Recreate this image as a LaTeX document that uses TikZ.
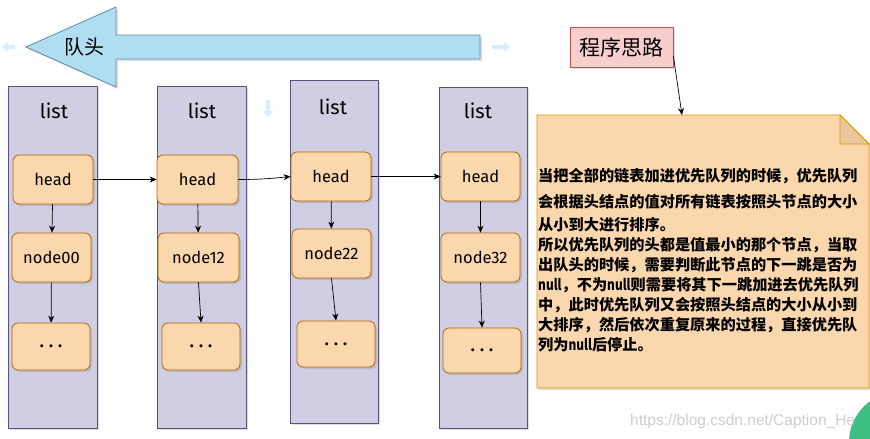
\documentclass[tikz,border=0pt]{standalone}
\usepackage{fontspec}
\setmainfont{Fira Sans}
\newfontfamily\cjk{Noto Sans CJK SC}
\newfontfamily\wmfont{Liberation Sans}
\usetikzlibrary{arrows.meta,shadows}
\newcommand{\nullword}{\scalebox{0.78}[1]{null}}
\definecolor{colfill}{HTML}{D0CEE2}
\definecolor{coldraw}{HTML}{56517E}
\definecolor{nfill}{HTML}{FAD7AC}
\definecolor{ndraw}{HTML}{B46504}
\definecolor{notedraw}{HTML}{D79B00}
\definecolor{foldfill}{HTML}{E9C79A}
\definecolor{pfill}{HTML}{F8CECC}
\definecolor{pdraw}{HTML}{B85450}
\definecolor{afill}{HTML}{B1DDF0}
\definecolor{adraw}{HTML}{5B8FB0}
\definecolor{faint}{HTML}{D8EEF9}
\begin{document}
\begin{tikzpicture}[x=1pt,y=-1pt,
  shd/.style={drop shadow={opacity=0.25,shadow xshift=2pt,shadow yshift=-2pt}},
  colbox/.style={draw=coldraw,fill=colfill,line width=0.8pt,shd},
  nbox/.style={draw=ndraw,fill=nfill,rounded corners=6pt,line width=0.8pt,shd,
    minimum width=80pt,minimum height=49pt,inner sep=0pt,font=\fontsize{16.5}{18}\selectfont},
  listlbl/.style={font=\fontsize{20}{22}\selectfont},
  conn/.style={-{Stealth[length=7pt,width=6pt]},line width=0.7pt,black},
  faintarrow/.style={draw=none,fill=faint}
]
\useasboundingbox (0,0) rectangle (870,439);
% faint hover arrows
\fill[faint] (2,47) -- (8,42) -- (8,45) -- (15,45) -- (15,49) -- (8,49) -- (8,52) -- cycle;
\fill[faint] (510,47) -- (504,42) -- (504,45) -- (492,45) -- (492,49) -- (504,49) -- (504,52) -- cycle;
\fill[faint] (268,117) -- (263,111) -- (266,111) -- (266,100) -- (270,100) -- (270,111) -- (273,111) -- cycle;
% big arrow
\draw[draw=adraw,fill=afill,line width=0.8pt,shd] (26,47) -- (116,7) -- (116,35) -- (480,35) -- (480,59) -- (116,59) -- (116,87) -- cycle;
\node[font=\cjk\fontsize{20}{22}\selectfont] (qhead) at (84,47) {队头};
% columns
\node[colbox,minimum width=89pt,minimum height=342pt] (c1) at (52.5,257) {};
\node[colbox,minimum width=89pt,minimum height=342pt] (c2) at (201.5,257) {};
\node[colbox,minimum width=88pt,minimum height=343pt] (c3) at (334,251.5) {};
\node[colbox,minimum width=88pt,minimum height=341pt] (c4) at (483,257.5) {};
\node[listlbl] (l1) at (54,111) {list};
\node[listlbl] (l2) at (202,111) {list};
\node[listlbl] (l3) at (333,107) {list};
\node[listlbl] (l4) at (478,111) {list};
% nodes
\node[nbox] (h1) at (53,179.5) {head};
\node[nbox,minimum width=79pt] (n1) at (51.5,257.5) {node00};
\node[nbox,minimum width=78pt,minimum height=47pt] (d1) at (51,346.5) {\textbf{. . .}};
\node[nbox,minimum width=81pt] (h2) at (197.5,179.5) {head};
\node[nbox,minimum width=81pt] (n2) at (198.5,257.5) {node12};
\node[nbox,minimum width=78pt,minimum height=47pt] (d2) at (201,346.5) {\textbf{. . .}};
\node[nbox] (h3) at (331,176.5) {head};
\node[nbox,minimum width=79pt] (n3) at (331.5,253.5) {node22};
\node[nbox,minimum width=78pt,minimum height=46pt] (d3) at (336,344) {\textbf{. . .}};
\node[nbox,minimum width=79pt] (h4) at (480.5,176.5) {head};
\node[nbox,minimum width=79pt] (n4) at (480.5,257.5) {node32};
\node[nbox,minimum width=78pt,minimum height=45pt] (d4) at (482,350.5) {\textbf{. . .}};
% connectors
\draw[conn] (h1) -- (n1);
\draw[conn] (n1) -- (d1);
\draw[conn] (h2) -- (n2);
\draw[conn] (n2.south) -- (d2.north);
\draw[conn] (h3) -- (n3);
\draw[conn] (n3.south) -- (d3.north);
\draw[conn] (h4) -- (n4);
\draw[conn] (n4.south) -- (d4.north);
\draw[conn] (h1.east) -- (h2.west);
\draw[conn] (h2.east) to[out=0,in=186] (h3.west);
\draw[conn] (h3.east) -- (h4.west);
% program idea box
\node[draw=pdraw,fill=pfill,line width=0.8pt,shd,minimum width=103pt,minimum height=40pt,
  font=\cjk\fontsize{21}{23}\selectfont] (pr) at (621.5,47) {程序思路};
% note
\draw[draw=notedraw,fill=nfill,line width=0.8pt,shd] (537,115) -- (840,115) -- (869,144) -- (869,388) -- (537,388) -- cycle;
\draw[draw=notedraw,fill=foldfill,line width=0.8pt] (840,115) -- (840,144) -- (869,144) -- cycle;
\coordinate (notetop) at (682,115);
\draw[conn] (pr.-10) -- (notetop);
\node[anchor=north west,inner sep=0pt,align=left,
  font=\cjk\bfseries\fontsize{15.2}{20}\selectfont] (notetext) at (538,168) {%
当把全部的链表加进优先队列的时候，优先队列\\[6pt]
会根据头结点的值对所有链表按照头节点的大小\\[3pt]
从小到大进行排序。\\
所以优先队列的头都是值最小的那个节点，当取\\
出队头的时候，需要判断此节点的下一跳是否为\\
\nullword，不为\nullword 则需要将其下一跳加进去优先队列\\
中，此时优先队列又会按照头结点的大小从小到\\
大排序，然后依次重复原来的过程，直接优先队\\
列为\nullword 后停止。};
% watermark and badge
\begin{scope}
\clip (0,0) rectangle (870,439);
\fill[fill={rgb,255:red,62;green,192;blue,132}] (899,442) circle (50);
\end{scope}
\node[font=\wmfont\fontsize{15.5}{17}\selectfont,text={rgb,255:red,205;green,205;blue,205},anchor=west,inner sep=0pt] (wm) at (630,421) {https://blog.csdn.net/Caption\_He};
\end{tikzpicture}
\end{document}
